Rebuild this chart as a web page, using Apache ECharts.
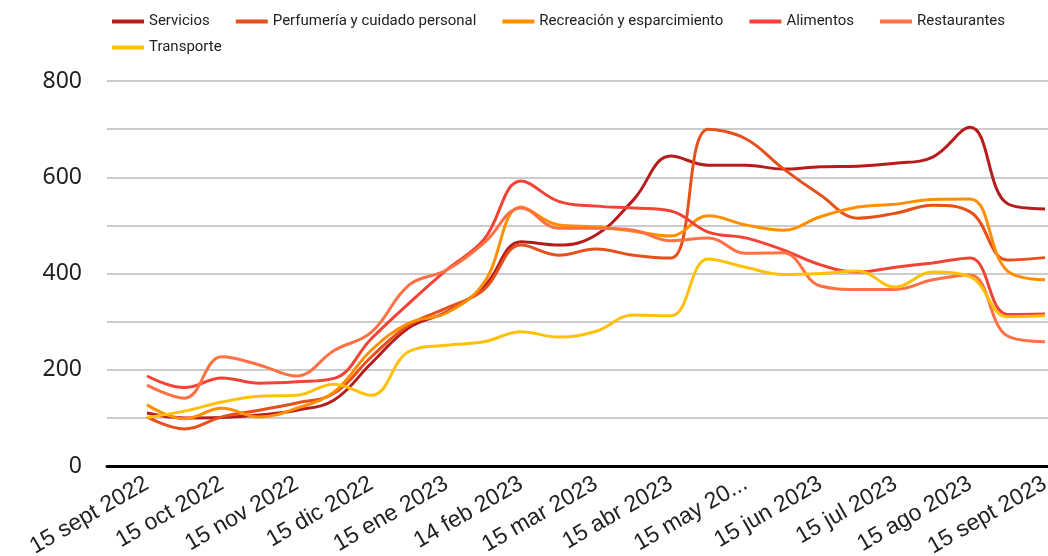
<!DOCTYPE html>
<html>
<head>
<meta charset="utf-8">
<script src="https://cdn.jsdelivr.net/npm/echarts@6/dist/echarts.min.js"></script>
<style>
  html, body { margin: 0; padding: 0; background: #fff; }
  #chart { width: 1048px; height: 556px; }
</style>
</head>
<body>
<div id="chart"></div>
<script>
// semi-monthly points, a tick label on every second one
const dates = [
  '15 sept 2022', '30 sept 2022', '15 oct 2022', '31 oct 2022', '15 nov 2022', '30 nov 2022',
  '15 dic 2022', '31 dic 2022', '15 ene 2023', '31 ene 2023', '14 feb 2023', '28 feb 2023',
  '15 mar 2023', '31 mar 2023', '15 abr 2023', '30 abr 2023', '15 may 2023', '31 may 2023',
  '15 jun 2023', '30 jun 2023', '15 jul 2023', '31 jul 2023', '15 ago 2023', '31 ago 2023',
  '15 sept 2023'
]
const tickLabels = [
  '15 sept 2022', '15 oct 2022', '15 nov 2022', '15 dic 2022', '15 ene 2023', '14 feb 2023',
  '15 mar 2023', '15 abr 2023', '15 may 20...', '15 jun 2023', '15 jul 2023', '15 ago 2023',
  '15 sept 2023'
]
const yTicks = [0, 200, 400, 600, 800]

const servicios = [110, 100, 101, 106, 116, 137, 214, 287, 320, 372, 466, 459, 480, 553, 644, 625, 625, 617, 622, 623, 629, 642, 704, 545, 534]
const perfumeria = [102, 77, 102, 116, 131, 151, 227, 293, 328, 366, 459, 438, 451, 438, 432, 700, 680, 618, 563, 515, 525, 542, 528, 428, 433]
const recreacion = [127, 98, 120, 102, 120, 154, 241, 297, 318, 380, 538, 501, 497, 488, 478, 520, 501, 490, 518, 538, 544, 554, 555, 405, 387]
const alimentos = [187, 163, 183, 172, 175, 182, 265, 338, 407, 470, 592, 550, 540, 536, 530, 486, 474, 449, 418, 403, 413, 422, 432, 315, 316]
const restaurantes = [168, 141, 227, 210, 187, 240, 278, 376, 407, 463, 536, 494, 494, 490, 468, 474, 442, 443, 374, 367, 367, 387, 397, 270, 258]
const transporte = [101, 114, 133, 145, 147, 170, 147, 238, 251, 258, 279, 268, 280, 314, 312, 430, 413, 398, 400, 405, 372, 403, 393, 310, 312]

const names = ['Servicios', 'Perfumería y cuidado personal', 'Recreación y esparcimiento', 'Alimentos', 'Restaurantes', 'Transporte']
const values = [servicios, perfumeria, recreacion, alimentos, restaurantes, transporte]
const colors = ['#b71c1c', '#e6501b', '#ff8f00', '#f44336', '#ff7043', '#ffc107']

const chart = echarts.init(document.getElementById('chart'), null, { renderer: 'canvas' })

const legendBase = {
  left: 107,
  icon: 'rect',
  itemWidth: 32,
  itemHeight: 4,
  itemGap: 26,
  textStyle: { fontFamily: 'Roboto', fontSize: 15, color: '#222' }
}

chart.setOption({
  animation: false,
  color: colors,
  legend: [
    { ...legendBase, top: 9, data: names.slice(0, 5) },
    { ...legendBase, top: 35, data: names.slice(5) }
  ],
  // labels run off the bottom edge, so keep the plot box fixed
  grid: [
    { left: 107, right: 0, top: 81, bottom: 90, outerBoundsMode: 'none', containLabel: false },
    { left: 147, right: 3, top: 81, bottom: 90, outerBoundsMode: 'none', containLabel: false }
  ],
  xAxis: [
    {
      // only the black baseline
      type: 'category', gridIndex: 0, data: [''],
      axisLine: { lineStyle: { color: '#000', width: 3 } },
      axisTick: { show: false }, axisLabel: { show: false }
    },
    {
      type: 'category', gridIndex: 1, data: dates, boundaryGap: false,
      axisLine: { show: false }, axisTick: { show: false },
      axisLabel: {
        interval: 1,
        rotate: 30,
        margin: 16,
        fontFamily: 'Liberation Sans',
        fontSize: 23,
        color: '#222',
        formatter: (v, i) => tickLabels[i / 2]
      }
    }
  ],
  yAxis: [
    {
      type: 'value', gridIndex: 0, min: 0, max: 800, interval: 100,
      axisLine: { show: false }, axisTick: { show: false },
      axisLabel: {
        margin: 25,
        fontFamily: 'Noto Sans',
        fontSize: 23,
        color: '#222',
        formatter: v => yTicks.includes(v) ? String(v) : ''
      },
      splitLine: { lineStyle: { color: '#cccccc', width: 2 } }
    },
    { type: 'value', gridIndex: 1, min: 0, max: 800, show: false, splitLine: { show: false } }
  ],
  series: names.map((name, k) => ({
    name,
    type: 'line',
    xAxisIndex: 1,
    yAxisIndex: 1,
    data: values[k],
    smooth: 0.4,
    showSymbol: false,
    lineStyle: { width: 3 }
  }))
})
</script>
</body>
</html>
